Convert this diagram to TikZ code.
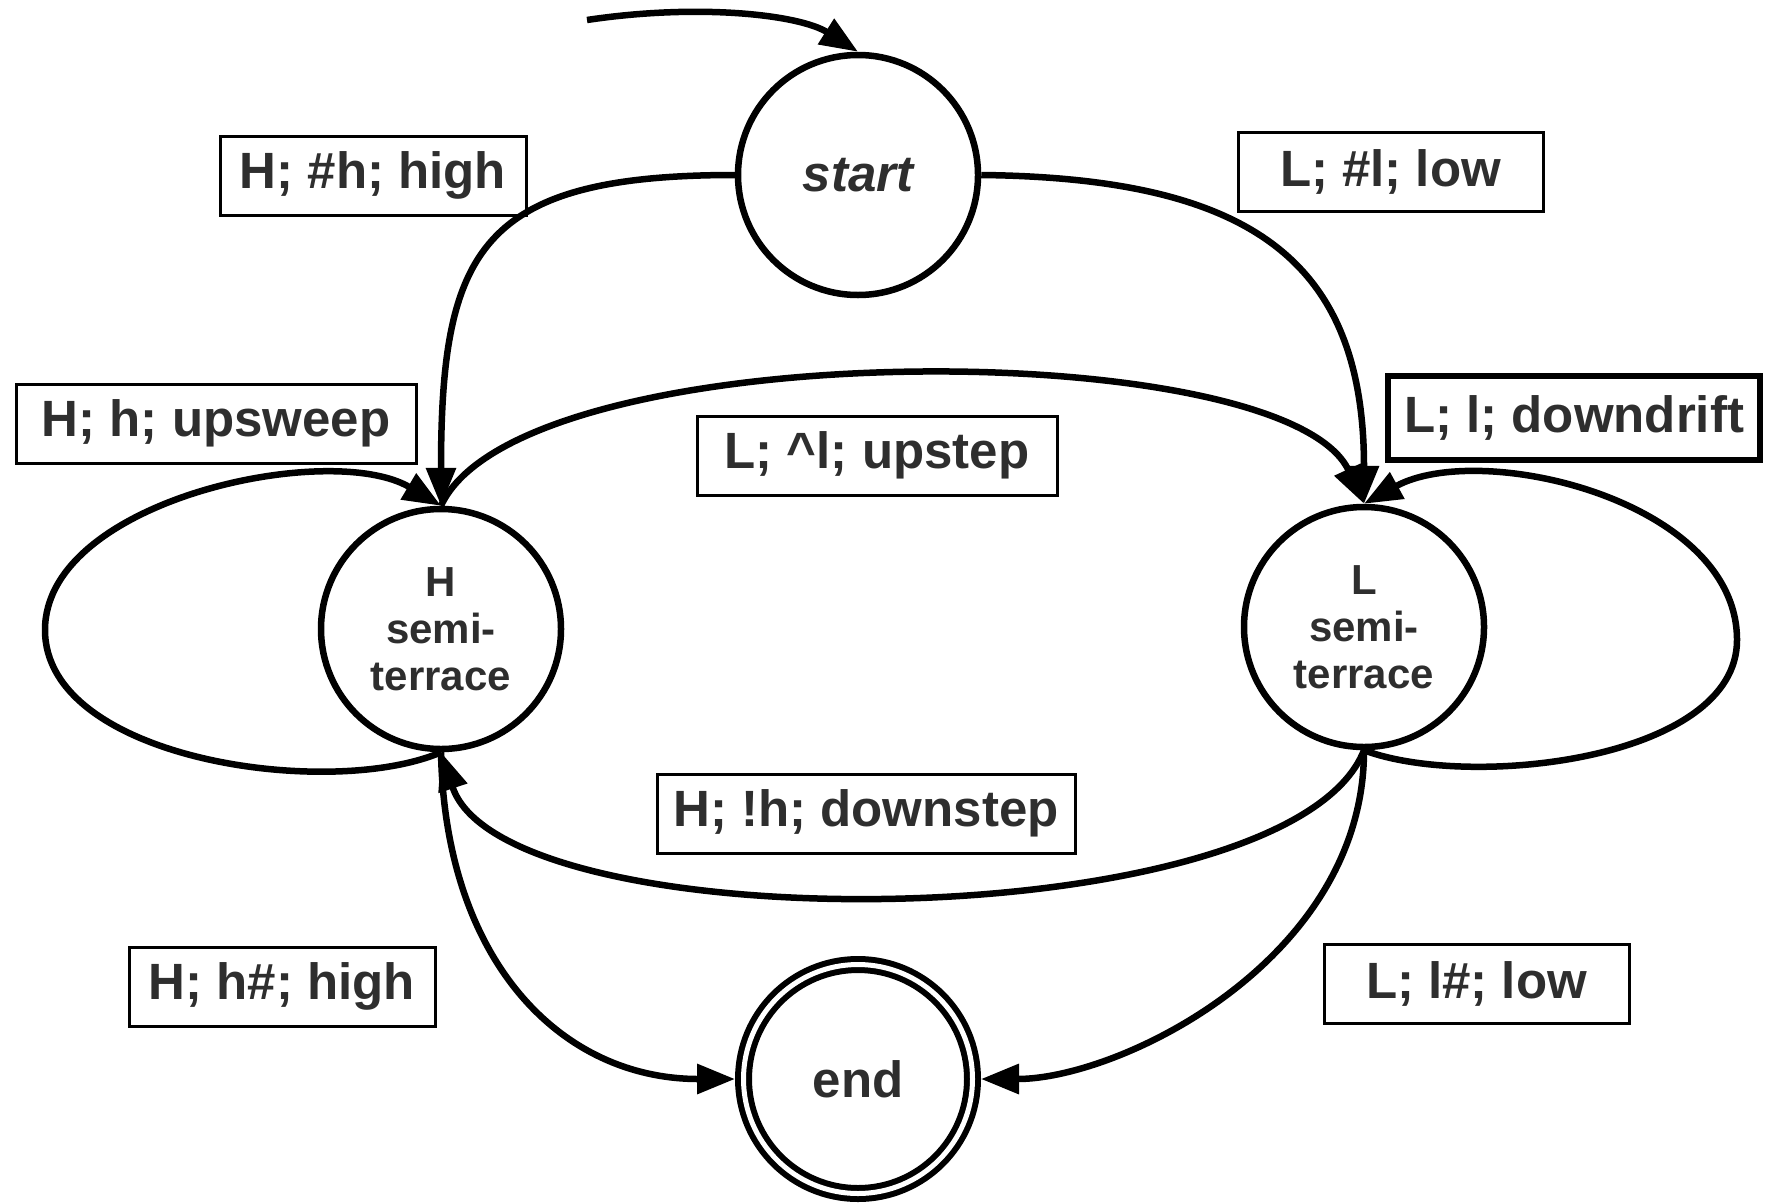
\documentclass[tikz,border=0pt]{standalone}
\usepackage{fontspec}
\setmainfont{Liberation Sans}
\usetikzlibrary{arrows.meta}
\definecolor{txt}{HTML}{2E2E2E}
\begin{document}
\begin{tikzpicture}[x=1pt,y=-1pt,
  stnode/.style={circle, draw, line width=6.5pt, minimum size=240pt, inner sep=0pt, outer sep=3.25pt,
    font=\fontsize{42}{47}\selectfont\bfseries, text=txt, align=center},
  lbl/.style={draw, line width=3pt, inner sep=0pt, minimum height=79pt,
    font=\fontsize{51}{60}\selectfont\bfseries, text=txt},
  conn/.style={line width=6.5pt, -{Triangle[length=38pt,width=29pt]}}
]
\useasboundingbox (0,0) rectangle (1771,1202);

% states
\node[stnode, font=\fontsize{51}{60}\selectfont\bfseries\itshape] (start) at (858,175) {start};
\node[stnode] (H) at (441,629) {H\\semi-\\terrace};
\node[stnode] (L) at (1364,627) {L\\semi-\\terrace};
\node[stnode, double, line width=6pt, double distance=5pt, minimum size=229pt, outer sep=8.5pt,
      font=\fontsize{51}{60}\selectfont\bfseries] (end) at (858,1079) {end};

% labels
\node[lbl, minimum width=306pt] (l1) at (373,175.5) {H; \#h; high};
\node[lbl, minimum width=305pt] (l2) at (1390.5,171.5) {L; \#l; low};
\node[lbl, minimum width=400pt] (l3) at (216,423.5) {H; h; upsweep};
\node[lbl, minimum width=360pt] (l4) at (877,455.5) {L; \^{}l; upstep};
\node[lbl, line width=6pt, minimum width=372pt, minimum height=84pt] (l5) at (1574,418) {L; l; downdrift};
\node[lbl, minimum width=418pt] (l6) at (866,813.5) {H; !h; downstep};
\node[lbl, minimum width=306pt] (l7) at (282,986.5) {H; h\#; high};
\node[lbl, minimum width=305pt] (l8) at (1476.5,983.5) {L; l\#; low};

% initial arrow
\coordinate (init) at (587,20);
\draw[conn] (init) .. controls (700,3) and (800,15) .. (start.north);

% start to semi-terraces
\draw[conn] (start.west) .. controls (480,175) and (441,250) .. (H.north);
\draw[conn] (start.east) .. controls (1250,178) and (1364,260) .. (L.north);

% upstep arc and downstep arc
\draw[conn] (H.north) .. controls (520,333) and (1285,333) .. (L.north);
\draw[conn] (L.south) .. controls (1290,939) and (505,945) .. (H.south);

% to end
\draw[conn] (H.south) .. controls (445,960) and (560,1079) .. (end.west);
\draw[conn] (L.south) .. controls (1364,960) and (1120,1079) .. (end.east);

% self loops
\draw[conn] (H.south) .. controls (330,800) and (45,760) .. (45,630)
  .. controls (45,500) and (330,440) .. (H.north);
\draw[conn] (L.south) .. controls (1470,790) and (1737,760) .. (1737,640)
  .. controls (1737,500) and (1480,440) .. (L.north);
\end{tikzpicture}
\end{document}
